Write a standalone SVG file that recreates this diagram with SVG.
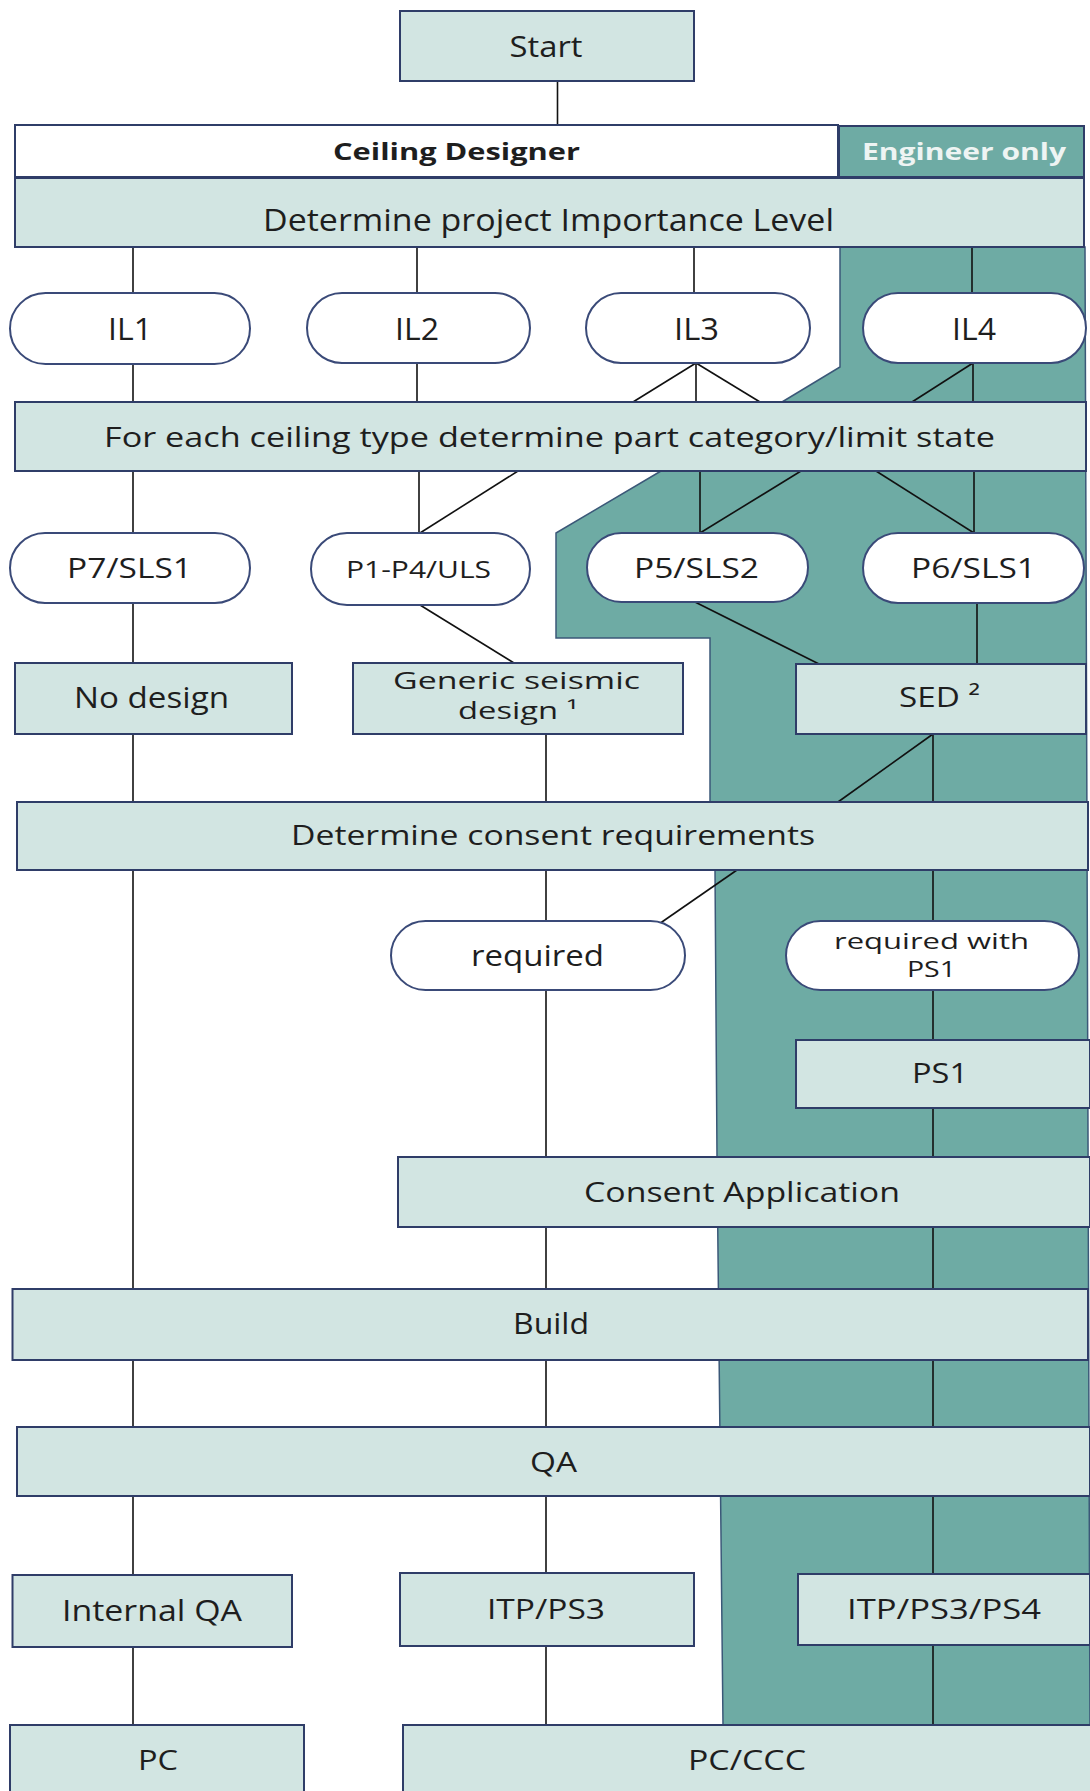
<svg xmlns="http://www.w3.org/2000/svg" width="1090" height="1791" viewBox="0 0 1090 1791">
<style>
.bx{fill:#d2e5e2;stroke:#2f3d68;stroke-width:2}
.pl{fill:#ffffff;stroke:#3a4a78;stroke-width:2}
.t{font-family:"Open Sans","DejaVu Sans",sans-serif;fill:#1e1e1e}
.b{font-weight:bold}
.c line{stroke:#111;stroke-width:1.6}
</style>
<rect x="0" y="0" width="1090" height="1791" fill="#ffffff"/>
<g id="engineer-zone">
<polygon points="840,247 840,367 782,402 661,471 556,533 556,638 710,638 710,802 715,870 717,1157 723,1725 1090,1725 1085,247" fill="#6eaba4" stroke="#3b5878" stroke-width="1.5"/>
</g>
<g class="c" id="connectors">
<line x1="557.5" y1="81" x2="557.5" y2="125"/>
<line x1="133" y1="247" x2="133" y2="293"/>
<line x1="417" y1="247" x2="417" y2="293"/>
<line x1="694" y1="247" x2="694" y2="293"/>
<line x1="972" y1="247" x2="972" y2="293"/>
<line x1="133" y1="364" x2="133" y2="402"/>
<line x1="417" y1="363" x2="417" y2="402"/>
<line x1="696" y1="363" x2="633" y2="402"/>
<line x1="696" y1="363" x2="696" y2="402"/>
<line x1="696" y1="363" x2="760" y2="402"/>
<line x1="973" y1="363" x2="912" y2="402"/>
<line x1="973" y1="363" x2="973" y2="402"/>
<line x1="133" y1="471" x2="133" y2="533"/>
<line x1="419" y1="471" x2="419" y2="533"/>
<line x1="518" y1="471" x2="420" y2="533"/>
<line x1="700" y1="471" x2="700" y2="533"/>
<line x1="801" y1="471" x2="700" y2="533"/>
<line x1="876" y1="471" x2="974" y2="533"/>
<line x1="974" y1="471" x2="974" y2="533"/>
<line x1="133" y1="603" x2="133" y2="663"/>
<line x1="420" y1="605" x2="514" y2="663"/>
<line x1="695" y1="602" x2="819" y2="664"/>
<line x1="977" y1="603" x2="977" y2="664"/>
<line x1="133" y1="734" x2="133" y2="802"/>
<line x1="546" y1="734" x2="546" y2="802"/>
<line x1="933" y1="734" x2="838" y2="802"/>
<line x1="933" y1="734" x2="933" y2="802"/>
<line x1="133" y1="870" x2="133" y2="1289"/>
<line x1="546" y1="870" x2="546" y2="921"/>
<line x1="737" y1="870" x2="659" y2="924"/>
<line x1="933" y1="870" x2="933" y2="921"/>
<line x1="546" y1="990" x2="546" y2="1157"/>
<line x1="933" y1="990" x2="933" y2="1040"/>
<line x1="933" y1="1108" x2="933" y2="1157"/>
<line x1="546" y1="1227" x2="546" y2="1289"/>
<line x1="933" y1="1227" x2="933" y2="1289"/>
<line x1="133" y1="1360" x2="133" y2="1427"/>
<line x1="546" y1="1360" x2="546" y2="1427"/>
<line x1="933" y1="1360" x2="933" y2="1427"/>
<line x1="133" y1="1496" x2="133" y2="1575"/>
<line x1="546" y1="1496" x2="546" y2="1573"/>
<line x1="933" y1="1496" x2="933" y2="1574"/>
<line x1="133" y1="1647" x2="133" y2="1725"/>
<line x1="546" y1="1646" x2="546" y2="1725"/>
<line x1="933" y1="1645" x2="933" y2="1725"/>
</g>
<g id="start"><rect class="bx" x="400" y="11" width="294" height="70"/><text class="t" x="509.5" y="57" font-size="29" textLength="73" lengthAdjust="spacingAndGlyphs">Start</text></g>
<g id="ceiling-designer"><rect x="15" y="125" width="823" height="52" fill="#ffffff" stroke="#2f3d68" stroke-width="2"/><text class="t b" x="333" y="160" font-size="23" textLength="247" lengthAdjust="spacingAndGlyphs">Ceiling Designer</text></g>
<g id="engineer-only"><rect x="839" y="126" width="245" height="51" fill="#6eaba4" stroke="#2f3d68" stroke-width="2"/><text class="t b" x="862" y="160" font-size="23" style="fill:#eef4f3" textLength="204" lengthAdjust="spacingAndGlyphs">Engineer only</text></g>
<g id="importance-level"><rect class="bx" x="15" y="178" width="1069" height="69"/><text class="t" x="263" y="231" font-size="31" textLength="571" lengthAdjust="spacingAndGlyphs">Determine project Importance Level</text></g>
<g id="il1"><rect class="pl" x="10" y="293" width="240" height="71" rx="35.5"/><text class="t" x="108" y="340" font-size="31" textLength="44" lengthAdjust="spacingAndGlyphs">IL1</text></g>
<g id="il2"><rect class="pl" x="307" y="293" width="223" height="70" rx="35"/><text class="t" x="395" y="340" font-size="31" textLength="44" lengthAdjust="spacingAndGlyphs">IL2</text></g>
<g id="il3"><rect class="pl" x="586" y="293" width="224" height="70" rx="35"/><text class="t" x="674" y="340" font-size="31" textLength="45" lengthAdjust="spacingAndGlyphs">IL3</text></g>
<g id="il4"><rect class="pl" x="863" y="293" width="223" height="70" rx="35"/><text class="t" x="952" y="340" font-size="31" textLength="44" lengthAdjust="spacingAndGlyphs">IL4</text></g>
<g id="part-category"><rect class="bx" x="15" y="402" width="1071" height="69"/><text class="t" x="104" y="447" font-size="27" textLength="891" lengthAdjust="spacingAndGlyphs">For each ceiling type determine part category/limit state</text></g>
<g id="p7"><rect class="pl" x="10" y="533" width="240" height="70" rx="35"/><text class="t" x="67" y="578" font-size="28" textLength="125" lengthAdjust="spacingAndGlyphs">P7/SLS1</text></g>
<g id="p1p4"><rect class="pl" x="311" y="533" width="219" height="72" rx="36"/><text class="t" x="346" y="578" font-size="24" textLength="145" lengthAdjust="spacingAndGlyphs">P1-P4/ULS</text></g>
<g id="p5"><rect class="pl" x="587" y="533" width="221" height="69" rx="34.5"/><text class="t" x="634" y="578" font-size="28" textLength="125" lengthAdjust="spacingAndGlyphs">P5/SLS2</text></g>
<g id="p6"><rect class="pl" x="863" y="533" width="221" height="70" rx="35"/><text class="t" x="911" y="578" font-size="28" textLength="125" lengthAdjust="spacingAndGlyphs">P6/SLS1</text></g>
<g id="no-design"><rect class="bx" x="15" y="663" width="277" height="71"/><text class="t" x="74" y="708" font-size="29" textLength="155" lengthAdjust="spacingAndGlyphs">No design</text></g>
<g id="generic"><rect class="bx" x="353" y="663" width="330" height="71"/><text class="t" x="393" y="689" font-size="23" textLength="247" lengthAdjust="spacingAndGlyphs">Generic seismic</text><text class="t" x="458" y="719" font-size="23" textLength="120" lengthAdjust="spacingAndGlyphs">design ¹</text></g>
<g id="sed"><rect class="bx" x="796" y="664" width="290" height="70"/><text class="t" x="899" y="707" font-size="28" textLength="81" lengthAdjust="spacingAndGlyphs">SED ²</text></g>
<g id="consent-req"><rect class="bx" x="17" y="802" width="1071" height="68"/><text class="t" x="291" y="845" font-size="28" textLength="524" lengthAdjust="spacingAndGlyphs">Determine consent requirements</text></g>
<g id="required"><rect class="pl" x="391" y="921" width="294" height="69" rx="34.5"/><text class="t" x="471" y="966" font-size="30" textLength="133" lengthAdjust="spacingAndGlyphs">required</text></g>
<g id="required-ps1"><rect class="pl" x="786" y="921" width="293" height="69" rx="34.5"/><text class="t" x="834" y="949" font-size="21" textLength="195" lengthAdjust="spacingAndGlyphs">required with</text><text class="t" x="907" y="977" font-size="21" textLength="49" lengthAdjust="spacingAndGlyphs">PS1</text></g>
<g id="ps1"><rect class="bx" x="796" y="1040" width="294" height="68"/><text class="t" x="912" y="1083" font-size="28" textLength="56" lengthAdjust="spacingAndGlyphs">PS1</text></g>
<g id="consent-app"><rect class="bx" x="398" y="1157" width="692" height="70"/><text class="t" x="584" y="1202" font-size="28" textLength="316" lengthAdjust="spacingAndGlyphs">Consent Application</text></g>
<g id="build"><rect class="bx" x="12.5" y="1289" width="1075.5" height="71"/><text class="t" x="513" y="1334" font-size="30" textLength="76" lengthAdjust="spacingAndGlyphs">Build</text></g>
<g id="qa"><rect class="bx" x="17" y="1427" width="1073" height="69"/><text class="t" x="530" y="1472" font-size="28" textLength="47" lengthAdjust="spacingAndGlyphs">QA</text></g>
<g id="internal-qa"><rect class="bx" x="12.5" y="1575" width="279.5" height="72"/><text class="t" x="62" y="1621" font-size="29" textLength="180" lengthAdjust="spacingAndGlyphs">Internal QA</text></g>
<g id="itp-ps3"><rect class="bx" x="400" y="1573" width="294" height="73"/><text class="t" x="487" y="1619" font-size="27" textLength="118" lengthAdjust="spacingAndGlyphs">ITP/PS3</text></g>
<g id="itp-ps4"><rect class="bx" x="798" y="1574" width="292" height="71"/><text class="t" x="847" y="1619" font-size="27" textLength="194" lengthAdjust="spacingAndGlyphs">ITP/PS3/PS4</text></g>
<g id="pc"><rect class="bx" x="10" y="1725" width="294" height="80"/><text class="t" x="138" y="1770" font-size="28" textLength="40" lengthAdjust="spacingAndGlyphs">PC</text></g>
<g id="pc-ccc"><rect class="bx" x="403" y="1725" width="700" height="80"/><text class="t" x="688" y="1770" font-size="28" textLength="118" lengthAdjust="spacingAndGlyphs">PC/CCC</text></g>
</svg>
